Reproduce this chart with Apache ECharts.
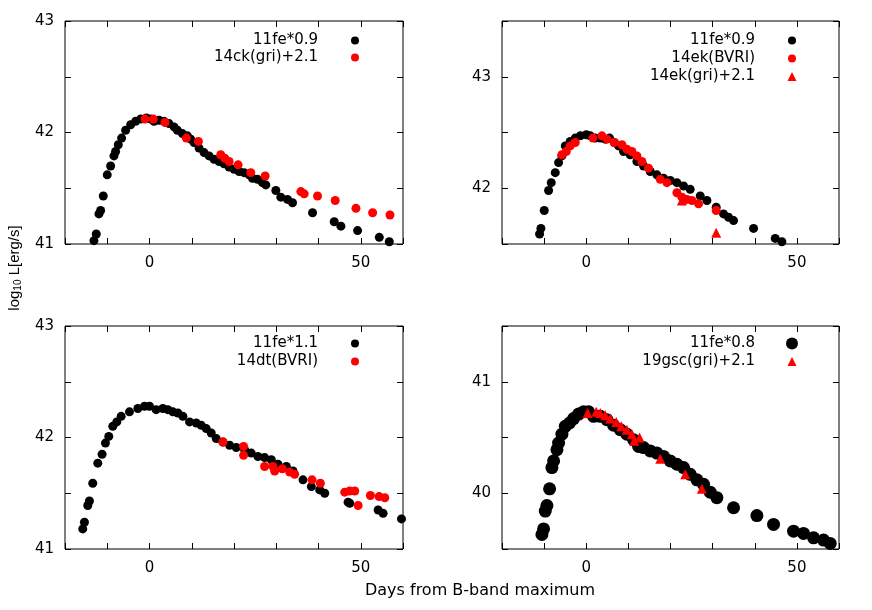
<!DOCTYPE html>
<html>
<head>
<meta charset="utf-8">
<script src="https://cdn.jsdelivr.net/npm/echarts@6/dist/echarts.min.js"></script>
<style>
html, body { margin: 0; padding: 0; background: #fff; }
#chart { width: 872px; height: 610px; }
</style>
</head>
<body>
<div id="chart"></div>
<script>
// panel 1: 11fe*0.9 vs 14ck(gri)+2.1
const p1FeDay = [-13.15, -12.6, -11.97, -11.57, -10.94, -10.0, -9.2, -8.41, -8.02, -7.39, -6.6, -5.65, -4.46, -3.28, -2.09, -0.75, 0.28, 1.07, 2.25, 3.44, 4.62, 5.81, 6.6, 7.78, 8.97, 9.75, 10.54, 11.73, 12.91, 14.1, 15.28, 16.47, 17.65, 18.84, 20.02, 21.21, 22.39, 23.58, 24.37, 25.55, 26.74, 27.53, 29.9, 31.08, 32.66, 33.85, 38.59, 43.72, 45.3, 49.25, 54.39, 56.75];
const p1FeLum = [41.03, 41.09, 41.27, 41.3, 41.43, 41.62, 41.7, 41.79, 41.83, 41.89, 41.95, 42.02, 42.07, 42.1, 42.12, 42.13, 42.12, 42.1, 42.11, 42.1, 42.08, 42.05, 42.02, 41.99, 41.97, 41.94, 41.91, 41.86, 41.82, 41.79, 41.76, 41.74, 41.72, 41.69, 41.67, 41.65, 41.64, 41.62, 41.59, 41.58, 41.55, 41.53, 41.48, 41.42, 41.4, 41.37, 41.28, 41.2, 41.16, 41.12, 41.06, 41.02];
const p1CkDay = [-1.07, 0.91, 3.67, 8.73, 11.57, 16.86, 17.81, 18.84, 20.97, 23.97, 27.37, 35.82, 36.61, 39.77, 43.96, 48.86, 52.81, 56.92];
const p1CkLum = [42.12, 42.12, 42.09, 41.95, 41.92, 41.8, 41.77, 41.74, 41.71, 41.64, 41.61, 41.47, 41.45, 41.43, 41.39, 41.32, 41.28, 41.26];

// panel 2: 11fe*0.9 vs 14ek
const p2FeDay = [-11.08, -10.76, -9.97, -8.94, -8.31, -7.36, -6.57, -5.78, -4.98, -3.8, -2.61, -1.42, 0, 0.95, 2.14, 3.32, 4.51, 5.54, 6.65, 7.67, 8.86, 10.44, 12.03, 13.61, 15.19, 16.77, 18.35, 19.94, 21.52, 23.1, 24.68, 27.06, 28.64, 30.85, 32.59, 33.78, 34.97, 39.72, 44.86, 46.44];
const p2FeLum = [41.59, 41.64, 41.8, 41.98, 42.05, 42.14, 42.23, 42.29, 42.38, 42.42, 42.45, 42.47, 42.48, 42.47, 42.45, 42.45, 42.44, 42.45, 42.41, 42.38, 42.33, 42.3, 42.24, 42.2, 42.15, 42.12, 42.09, 42.07, 42.05, 42.02, 41.99, 41.93, 41.89, 41.83, 41.77, 41.74, 41.71, 41.64, 41.55, 41.52];
const p2EkDay = [-5.78, -4.75, -3.8, -2.61, 1.58, 3.72, 4.91, 6.65, 8.47, 9.65, 10.84, 12.03, 13.21, 14.79, 17.56, 19.15, 21.52, 22.71, 23.89, 25.08, 26.66, 30.85];
const p2EkLum = [42.3, 42.33, 42.38, 42.41, 42.45, 42.47, 42.44, 42.41, 42.39, 42.35, 42.33, 42.29, 42.24, 42.18, 42.08, 42.05, 41.96, 41.92, 41.9, 41.89, 41.86, 41.8];
const p2EkGriDay = [22.7, 30.85];
const p2EkGriLum = [41.89, 41.6];

// panel 3: 11fe*1.1 vs 14dt(BVRI)
const p3FeDay = [-15.8, -15.4, -14.61, -14.22, -13.43, -12.24, -11.22, -10.43, -9.64, -8.69, -7.74, -6.71, -4.74, -2.76, -1.18, 0, 1.58, 3.16, 4.34, 5.53, 6.71, 7.9, 9.48, 11.06, 12.24, 13.43, 14.61, 15.8, 17.38, 18.96, 20.54, 22.51, 24.09, 25.67, 27.25, 28.83, 30.41, 32.39, 33.97, 36.33, 38.31, 40.28, 41.47, 47.0, 47.39, 54.11, 55.29, 59.64];
const p3FeLum = [41.18, 41.24, 41.39, 41.43, 41.59, 41.77, 41.85, 41.95, 42.01, 42.1, 42.14, 42.19, 42.23, 42.26, 42.28, 42.28, 42.25, 42.26, 42.25, 42.23, 42.22, 42.19, 42.14, 42.13, 42.11, 42.08, 42.04, 41.99, 41.96, 41.93, 41.91, 41.89, 41.86, 41.83, 41.82, 41.8, 41.76, 41.74, 41.7, 41.62, 41.56, 41.53, 41.5, 41.42, 41.41, 41.35, 41.32, 41.27];
const p3DtDay = [17.38, 22.27, 22.27, 27.25, 29.23, 29.62, 31.44, 33.18, 34.36, 38.47, 40.44, 46.21, 47.39, 48.58, 49.37, 52.29, 54.34, 55.69];
const p3DtLum = [41.96, 41.92, 41.84, 41.74, 41.74, 41.7, 41.72, 41.69, 41.67, 41.62, 41.59, 41.51, 41.52, 41.52, 41.39, 41.48, 41.47, 41.46];

// panel 4: 11fe*0.8 vs 19gsc(gri)+2.1
const p4FeDay = [-10.52, -10.13, -9.73, -9.34, -8.7, -8.15, -7.75, -6.96, -6.57, -5.78, -4.98, -3.96, -3.01, -1.82, -0.63, 0.55, 1.74, 3.32, 4.91, 6.49, 8.07, 9.65, 11.23, 12.42, 13.61, 15.19, 16.77, 18.35, 19.94, 21.52, 23.1, 24.68, 26.27, 27.85, 29.43, 31.01, 34.97, 40.51, 44.46, 49.21, 51.58, 53.96, 56.33, 57.91];
const p4FeLum = [39.63, 39.68, 39.84, 39.89, 40.04, 40.23, 40.29, 40.39, 40.45, 40.53, 40.6, 40.63, 40.67, 40.71, 40.73, 40.73, 40.69, 40.69, 40.66, 40.61, 40.57, 40.53, 40.48, 40.42, 40.41, 40.38, 40.36, 40.33, 40.29, 40.26, 40.23, 40.17, 40.12, 40.08, 40.01, 39.96, 39.87, 39.8, 39.72, 39.66, 39.64, 39.6, 39.58, 39.55];
const p4GscDay = [0.32, 2.37, 3.32, 4.51, 5.7, 7.12, 8.31, 9.65, 10.84, 11.39, 12.66, 17.56, 23.5, 27.45];
const p4GscLum = [40.72, 40.73, 40.72, 40.7, 40.67, 40.64, 40.6, 40.57, 40.53, 40.47, 40.5, 40.31, 40.17, 40.04];

// axis ranges per panel
const yMins = [41, 41.5, 41, 39.5];
const yMaxs = [43, 43.5, 43, 41.5];
const xLabelDays = [0, 50];

const zip = (xs, ys) => xs.map((x, i) => [x, ys[i]]);
const FONT = 'DejaVu Sans';

const grids = [
    { left: 65, top: 21, width: 338, height: 223 },
    { left: 502, top: 21, width: 337, height: 223 },
    { left: 65, top: 326, width: 338, height: 223 },
    { left: 502, top: 326, width: 337, height: 223 }
].map(g => Object.assign(g, { show: true, borderColor: '#000', borderWidth: 1 }));

const tick = { show: true, inside: true, length: 6, lineStyle: { color: '#000' } };
const xAxes = [];
const yAxes = [];
grids.forEach((g, i) => {
    ['bottom', 'top'].forEach(pos => {
        xAxes.push({
            type: 'value', gridIndex: i, position: pos,
            min: -20, max: 60, interval: 10,
            axisLine: { show: false, onZero: false },
            splitLine: { show: false },
            axisTick: tick,
            axisLabel: {
                show: pos === 'bottom', margin: 12, color: '#000', fontSize: 15, fontFamily: FONT,
                formatter: v => xLabelDays.includes(v) ? String(v) : ''
            }
        });
    });
    ['left', 'right'].forEach(pos => {
        yAxes.push({
            type: 'value', gridIndex: i, position: pos,
            min: yMins[i], max: yMaxs[i], interval: 0.5,
            axisLine: { show: false, onZero: false },
            splitLine: { show: false },
            axisTick: tick,
            axisLabel: {
                show: pos === 'left', margin: 11, color: '#000', fontSize: 15, fontFamily: FONT,
                formatter: v => Number.isInteger(v) ? String(v) : ''
            }
        });
    });
});

function sc(name, panel, data, color, symbol, size) {
    return {
        name: name, type: 'scatter',
        xAxisIndex: panel * 2, yAxisIndex: panel * 2,
        data: data, symbol: symbol, symbolSize: size,
        itemStyle: { color: color, opacity: 1 },
        emphasis: { disabled: true },
        silent: true
    };
}

const series = [
    sc('11fe*0.9', 0, zip(p1FeDay, p1FeLum), '#000', 'circle', 9),
    sc('14ck(gri)+2.1', 0, zip(p1CkDay, p1CkLum), '#ff0000', 'circle', 9),
    sc('11fe*0.9', 1, zip(p2FeDay, p2FeLum), '#000', 'circle', 9),
    sc('14ek(BVRI)', 1, zip(p2EkDay, p2EkLum), '#ff0000', 'circle', 9),
    sc('14ek(gri)+2.1', 1, zip(p2EkGriDay, p2EkGriLum), '#ff0000', 'triangle', 10),
    sc('11fe*1.1', 2, zip(p3FeDay, p3FeLum), '#000', 'circle', 9),
    sc('14dt(BVRI)', 2, zip(p3DtDay, p3DtLum), '#ff0000', 'circle', 9),
    sc('11fe*0.8', 3, zip(p4FeDay, p4FeLum), '#000', 'circle', 13),
    sc('19gsc(gri)+2.1', 3, zip(p4GscDay, p4GscLum), '#ff0000', 'triangle', 10)
];

// one legend per line: text right-aligned at textEnd, marker centred 37px to its right
function leg(name, textEnd, centerY, size) {
    return {
        data: [name], right: 872 - (textEnd + 37 + size / 2), top: centerY - 7,
        orient: 'vertical', align: 'right', padding: 0,
        itemWidth: size, itemHeight: size, selectedMode: false,
        textStyle: { color: '#000', fontSize: 15, fontFamily: FONT, padding: [0, 32 - size / 2, 0, 0] }
    };
}

const legends = [
    leg('11fe*0.9', 318, 40, 8),
    leg('14ck(gri)+2.1', 318, 57, 8),
    leg('11fe*0.9', 755, 40, 8),
    leg('14ek(BVRI)', 755, 58, 8),
    leg('14ek(gri)+2.1', 755, 76, 9),
    leg('11fe*1.1', 318, 343, 8),
    leg('14dt(BVRI)', 318, 361, 8),
    leg('11fe*0.8', 755, 343, 12),
    leg('19gsc(gri)+2.1', 755, 361, 9)
];

const chart = echarts.init(document.getElementById('chart'));
chart.setOption({
    animation: false,
    backgroundColor: '#fff',
    grid: grids,
    xAxis: xAxes,
    yAxis: yAxes,
    legend: legends,
    series: series,
    graphic: [
        {
            type: 'text', x: 480, y: 591,
            style: {
                text: 'Days from B-band maximum', fill: '#000',
                font: '16px "DejaVu Sans"', align: 'center', verticalAlign: 'middle'
            }
        },
        {
            type: 'text', x: 15, y: 268, rotation: Math.PI / 2,
            style: {
                text: '{a|log}{s|10}{a| L[erg/s]}',
                align: 'center', verticalAlign: 'middle',
                rich: {
                    a: { fontSize: 15, fontFamily: 'Liberation Sans', fill: '#000' },
                    s: { fontSize: 10, fontFamily: 'Liberation Sans', fill: '#000', verticalAlign: 'bottom', padding: [6, 0, 0, 0] }
                }
            }
        }
    ]
});
</script>
</body>
</html>
